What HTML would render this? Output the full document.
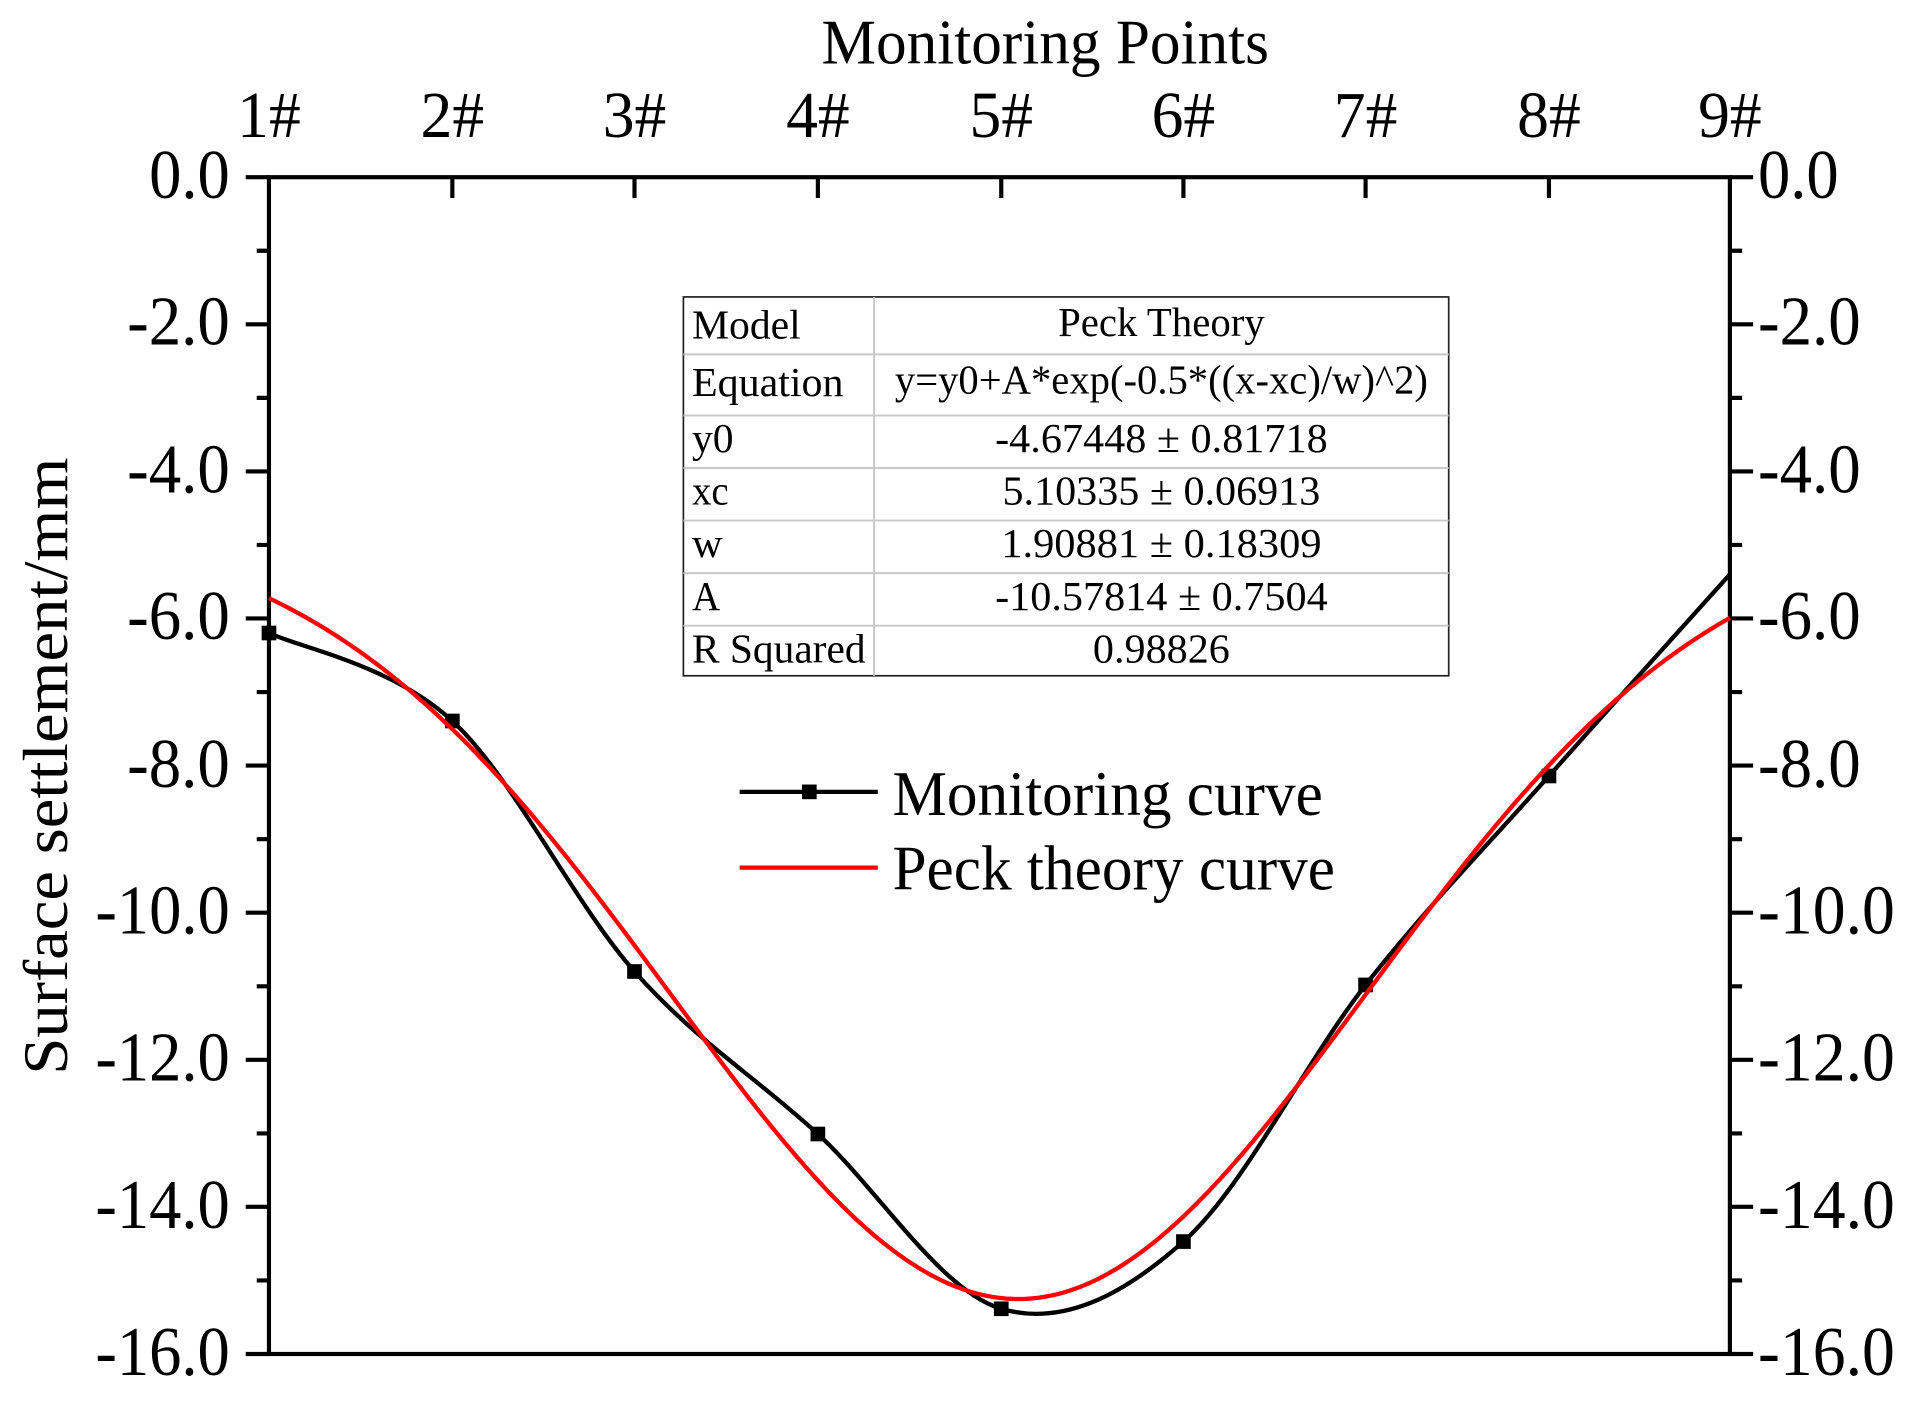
<!DOCTYPE html>
<html><head><meta charset="utf-8"><style>html,body{margin:0;padding:0;background:#fff}svg{display:block}text{font-family:"Liberation Serif",serif;fill:#000}</style></head>
<body>
<svg width="1914" height="1419" viewBox="0 0 1565.6 1161.2" preserveAspectRatio="none" xmlns="http://www.w3.org/2000/svg">
<rect width="1566" height="1162" fill="#fff"/>
<text x="855" y="52" font-size="52" text-anchor="middle" textLength="366" lengthAdjust="spacingAndGlyphs">Monitoring Points</text>
<g font-size="54" text-anchor="middle">
<text x="220" y="112" textLength="52" lengthAdjust="spacingAndGlyphs">1#</text>
<text x="370" y="112" textLength="52" lengthAdjust="spacingAndGlyphs">2#</text>
<text x="519" y="112" textLength="52" lengthAdjust="spacingAndGlyphs">3#</text>
<text x="669" y="112" textLength="52" lengthAdjust="spacingAndGlyphs">4#</text>
<text x="819" y="112" textLength="52" lengthAdjust="spacingAndGlyphs">5#</text>
<text x="968" y="112" textLength="52" lengthAdjust="spacingAndGlyphs">6#</text>
<text x="1117" y="112" textLength="52" lengthAdjust="spacingAndGlyphs">7#</text>
<text x="1267" y="112" textLength="52" lengthAdjust="spacingAndGlyphs">8#</text>
<text x="1415" y="112" textLength="52" lengthAdjust="spacingAndGlyphs">9#</text>
</g>
<g font-size="57" text-anchor="end">
<text x="188" y="162" textLength="66" lengthAdjust="spacingAndGlyphs">0.0</text>
<text x="188" y="282" textLength="84" lengthAdjust="spacingAndGlyphs">-2.0</text>
<text x="188" y="403" textLength="84" lengthAdjust="spacingAndGlyphs">-4.0</text>
<text x="188" y="523" textLength="84" lengthAdjust="spacingAndGlyphs">-6.0</text>
<text x="188" y="644" textLength="84" lengthAdjust="spacingAndGlyphs">-8.0</text>
<text x="188" y="764" textLength="110" lengthAdjust="spacingAndGlyphs">-10.0</text>
<text x="188" y="884" textLength="110" lengthAdjust="spacingAndGlyphs">-12.0</text>
<text x="188" y="1005" textLength="110" lengthAdjust="spacingAndGlyphs">-14.0</text>
<text x="188" y="1125" textLength="110" lengthAdjust="spacingAndGlyphs">-16.0</text>
</g>
<g font-size="57" text-anchor="start">
<text x="1438" y="162" textLength="66" lengthAdjust="spacingAndGlyphs">0.0</text>
<text x="1438" y="282" textLength="84" lengthAdjust="spacingAndGlyphs">-2.0</text>
<text x="1438" y="403" textLength="84" lengthAdjust="spacingAndGlyphs">-4.0</text>
<text x="1438" y="523" textLength="84" lengthAdjust="spacingAndGlyphs">-6.0</text>
<text x="1438" y="644" textLength="84" lengthAdjust="spacingAndGlyphs">-8.0</text>
<text x="1438" y="764" textLength="112" lengthAdjust="spacingAndGlyphs">-10.0</text>
<text x="1438" y="884" textLength="112" lengthAdjust="spacingAndGlyphs">-12.0</text>
<text x="1438" y="1005" textLength="112" lengthAdjust="spacingAndGlyphs">-14.0</text>
<text x="1438" y="1125" textLength="112" lengthAdjust="spacingAndGlyphs">-16.0</text>
</g>
<text transform="translate(55,627) rotate(-90)" font-size="52" text-anchor="middle" textLength="505" lengthAdjust="spacingAndGlyphs">Surface settlement/mm</text>

<g stroke="#000" stroke-width="3.4" fill="none">
<rect x="220" y="145" width="1195" height="963"/>
<path d="M201 145H220M201 265.4H220M201 385.8H220M201 506.1H220M201 626.5H220M201 746.9H220M201 867.3H220M201 987.6H220M201 1108H220"/>
<path d="M210 205.2H220M210 325.6H220M210 445.9H220M210 566.3H220M210 686.7H220M210 807.1H220M210 927.5H220M210 1047.8H220"/>
<path d="M1415 145H1434M1415 265.4H1434M1415 385.8H1434M1415 506.1H1434M1415 626.5H1434M1415 746.9H1434M1415 867.3H1434M1415 987.6H1434M1415 1108H1434"/>
<path d="M1415 205.2H1425M1415 325.6H1425M1415 445.9H1425M1415 566.3H1425M1415 686.7H1425M1415 807.1H1425M1415 927.5H1425M1415 1047.8H1425"/>
<path d="M370 145V162M519 145V162M669 145V162M819 145V162M968 145V162M1117 145V162M1267 145V162"/>
</g>

<g>
<rect x="559" y="243" width="626" height="310" fill="#fff" stroke="#222" stroke-width="1.4"/>
<path d="M559 290H1185M559 340H1185M559 383H1185M559 426H1185M559 469H1185M559 512H1185M715 243V553" stroke="#c8c8c8" stroke-width="1.6" fill="none"/>
</g>
<g font-size="34">
<text x="566" y="277" textLength="89" lengthAdjust="spacingAndGlyphs">Model</text>
<text x="566" y="324" textLength="124" lengthAdjust="spacingAndGlyphs">Equation</text>
<text x="566" y="370" textLength="34" lengthAdjust="spacingAndGlyphs">y0</text>
<text x="566" y="413" textLength="30" lengthAdjust="spacingAndGlyphs">xc</text>
<text x="566" y="456" textLength="25" lengthAdjust="spacingAndGlyphs">w</text>
<text x="566" y="499" textLength="23" lengthAdjust="spacingAndGlyphs">A</text>
<text x="566" y="542" textLength="142" lengthAdjust="spacingAndGlyphs">R Squared</text>
<text x="950" y="275" text-anchor="middle" textLength="169" lengthAdjust="spacingAndGlyphs">Peck Theory</text>
<text x="950" y="322" text-anchor="middle" textLength="436" lengthAdjust="spacingAndGlyphs">y=y0+A*exp(-0.5*((x-xc)/w)^2)</text>
<text x="950" y="370" text-anchor="middle" textLength="272" lengthAdjust="spacingAndGlyphs">-4.67448 ± 0.81718</text>
<text x="950" y="413" text-anchor="middle" textLength="260" lengthAdjust="spacingAndGlyphs">5.10335 ± 0.06913</text>
<text x="950" y="456" text-anchor="middle" textLength="262" lengthAdjust="spacingAndGlyphs">1.90881 ± 0.18309</text>
<text x="950" y="499" text-anchor="middle" textLength="272" lengthAdjust="spacingAndGlyphs">-10.57814 ± 0.7504</text>
<text x="950" y="542" text-anchor="middle" textLength="112" lengthAdjust="spacingAndGlyphs">0.98826</text>
</g>

<line x1="605" y1="648" x2="718" y2="648" stroke="#000" stroke-width="3.5"/>
<rect x="656" y="642" width="12" height="12" fill="#000"/>
<line x1="605" y1="710" x2="718" y2="710" stroke="#f00" stroke-width="3.5"/>
<text x="730" y="667" font-size="52" textLength="352" lengthAdjust="spacingAndGlyphs">Monitoring curve</text>
<text x="730" y="728" font-size="52" textLength="362" lengthAdjust="spacingAndGlyphs">Peck theory curve</text>

<path d="M220 518C245 530 320.2 543.8 370 590C419.8 636.2 469.2 738.7 519 795C568.8 851.3 619 882 669 928C719 974 769.2 1056.3 819 1071C868.8 1085.7 918.3 1060.2 968 1016C1017.7 971.8 1067.2 869.5 1117 806C1166.8 742.5 1217.3 691 1267 635C1316.7 579 1390.3 497.5 1415 470" fill="none" stroke="#000" stroke-width="3.5"/>
<g fill="#000">
<rect x="214" y="512" width="12" height="12"/><rect x="364" y="584" width="12" height="12"/><rect x="513" y="789" width="12" height="12"/><rect x="663" y="922" width="12" height="12"/><rect x="813" y="1065" width="12" height="12"/><rect x="962" y="1010" width="12" height="12"/><rect x="1111" y="800" width="12" height="12"/><rect x="1261" y="629" width="12" height="12"/>
</g>
<path id="peck" fill="none" stroke="#f00" stroke-width="3.5" d=""/>
<script>
(function(){var d="";for(var i=0;i<=400;i++){var x=1+8*i/400;var y=-4.67448-10.57814*Math.exp(-0.5*Math.pow((x-5.10335)/1.90881,2));var X=220+(x-1)*149.375,Y=145+(-y)*60.1875;d+=(i?"L":"M")+X.toFixed(2)+" "+Y.toFixed(2);}document.getElementById("peck").setAttribute("d",d);})();
</script>
</svg>
</body></html>
